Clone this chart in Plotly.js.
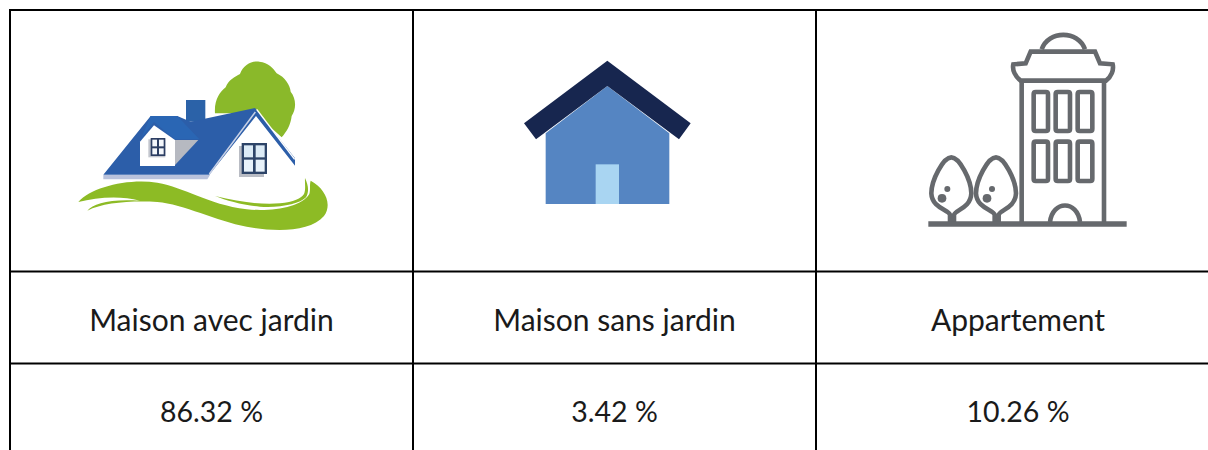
<!DOCTYPE html>
<html>
<head>
<meta charset="utf-8">
<script src="https://cdn.plot.ly/plotly-3.0.1.min.js"></script>
<style>html,body{margin:0;padding:0;background:#fff}#c{width:1208px;height:450px}</style>
</head>
<body>
<div id="c"></div>
<script>
const categories = ["Maison avec jardin", "Maison sans jardin", "Appartement"];
const shares = [86.32, 3.42, 10.26];

const columnEdges = [10, 413, 816, 1220];
const rowEdges = [10, 271.5, 363.5, 460];

const centre = i => (columnEdges[i] + columnEdges[i + 1]) / 2;
const xs = categories.map((_, i) => centre(i));

function place(d, ox, oy) {
  let n = 0;
  return d.replace(/-?\d+(\.\d+)?/g, m => {
    const v = parseFloat(m) / 3 + (n++ % 2 === 0 ? ox : oy);
    return v.toFixed(2);
  });
}
const fillShape = (d, color, o) => ({type: "path", xref: "x", yref: "y", path: place(d, o[0], o[1]),
  fillcolor: color, line: {width: 0}});
const strokeShape = (d, color, w, o) => ({type: "path", xref: "x", yref: "y", path: place(d, o[0], o[1]),
  fillcolor: "rgba(0,0,0,0)", line: {color: color, width: w}});
const rectPath = (a, b, c, d) => `M${a},${b} L${c},${b} L${c},${d} L${a},${d} Z`;
function roundRect(a, b, c, d) {
  const r = 6;
  return `M${a + r},${b} L${c - r},${b} Q${c},${b} ${c},${b + r} L${c},${d - r} Q${c},${d} ${c - r},${d} L${a + r},${d} Q${a},${d} ${a},${d - r} L${a},${b + r} Q${a},${b} ${a + r},${b} Z`;
}

const g = [60, 50];
const garden = [
  fillShape("M465,190 C462,150 480,125 497,112 C505,90 525,80 540,72 C550,45 575,32 598,35 C625,38 640,55 650,70 C675,82 690,105 692,125 C708,145 710,175 695,198 C692,225 680,245 665,262 L585,190 Z", "#8ab92a", g),
  fillShape(rectPath(378, 150, 436, 215), "#2b62a8", g),
  fillShape("M130,374 L272,198 L352,198 L392,215 L585,174 L705,325 L705,347 L588,198 L448,374 Z", "#2c5ea9", g),
  fillShape("M272,198 L352,198 L418,268 L345,268 L282,216 L245,262 Z", "#2a66b4", g),
  fillShape("M130,375 L450,375 L442,388 L130,388 Z", "#b9c2dc", g),
  fillShape("M240,275 L282,226 L345,270 L345,348 L240,348 Z", "#ffffff", g),
  fillShape("M345,270 L415,270 L345,345 Z", "#b6b9c1", g),
  fillShape(rectPath(265, 268, 316, 322), "#c3c6ce", g),
  fillShape(rectPath(272, 264, 316, 318), "#2c3e63", g),
  fillShape(rectPath(277, 269, 291, 289), "#f4f7fb", g),
  fillShape(rectPath(297, 269, 311, 289), "#f4f7fb", g),
  fillShape(rectPath(277, 295, 291, 313), "#f4f7fb", g),
  fillShape(rectPath(297, 295, 311, 313), "#f4f7fb", g),
  strokeShape("M586,186 L448,372", "#c8d1e6", 1.5, g),
  strokeShape("M590,178 L704,328", "#ffffff", 1.5, g),
  fillShape(rectPath(537, 288, 612, 381), "#b9bcc4", g),
  fillShape(rectPath(545, 279, 621, 372), "#2d4468", g),
  fillShape(rectPath(552, 286, 579, 322), "#dcebf6", g),
  fillShape(rectPath(587, 286, 614, 322), "#dcebf6", g),
  fillShape(rectPath(552, 329, 579, 365), "#e8f2fa", g),
  fillShape(rectPath(587, 329, 614, 365), "#e8f2fa", g),
  fillShape("M55,456 C95,412 200,385 292,398 C375,412 440,462 560,478 C640,486 725,470 748,432 C752,418 748,405 752,392 C795,415 818,462 792,498 C750,548 640,545 560,530 C470,514 370,462 292,456 C210,452 130,458 82,482 C100,460 150,446 240,452 C180,436 110,442 55,456 Z", "#8dbb25", g),
  fillShape("M465,438 C540,455 600,465 660,460 C700,456 725,445 732,432 C738,418 734,400 735,384 C745,405 748,425 738,442 C720,462 660,474 600,470 C550,466 500,452 465,438 Z", "#8dbb25", g)
];

const h = [500, 50];
const plainHouse = [
  fillShape("M137,250 L322,108 L508,250 L508,462 L137,462 Z", "#5585c2", h),
  fillShape(rectPath(287, 343, 357, 462), "#a9d5f2", h),
  fillShape("M72,220 L322,32 L572,220 L537,268 L322,108 L108,268 Z", "#17264f", h)
];

const t = [910, 20];
const grey = "#66696d";
const lw = 4.6;
const tree = dx => `M${dx + 120},608 L${dx + 120},585 C${dx + 118},570 ${dx + 66},565 ${dx + 64},520 C${dx + 64},480 ${dx + 100},412 ${dx + 124},412 C${dx + 148},412 ${dx + 184},480 ${dx + 184},520 C${dx + 182},565 ${dx + 134},570 ${dx + 132},585 L${dx + 132},608`;
const blob = (cx, cy, r) => `M${cx - r},${cy} Q${cx - r},${cy - r} ${cx},${cy - r} Q${cx + r},${cy - r} ${cx + r},${cy} Q${cx + r},${cy + r} ${cx},${cy + r} Q${cx - r},${cy + r} ${cx - r},${cy} Z`;
const tower = [
  strokeShape("M395,88 C415,30 505,30 525,88", grey, lw, t),
  strokeShape("M362,95 L555,95 L570,130 L608,133 C612,150 604,170 588,182 L332,182 C316,170 306,150 310,133 L347,130 Z", grey, lw, t),
  strokeShape("M335,185 L335,610", grey, lw, t),
  strokeShape("M582,185 L582,610", grey, lw, t),
  strokeShape(roundRect(371, 216, 414, 333), grey, lw, t),
  strokeShape(roundRect(437, 216, 480, 333), grey, lw, t),
  strokeShape(roundRect(503, 216, 547, 333), grey, lw, t),
  strokeShape(roundRect(371, 365, 414, 483), grey, lw, t),
  strokeShape(roundRect(437, 365, 480, 483), grey, lw, t),
  strokeShape(roundRect(503, 365, 547, 483), grey, lw, t),
  strokeShape("M420,606 C428,540 502,540 510,606", grey, lw, t),
  strokeShape(tree(0), grey, lw, t),
  strokeShape(tree(134), grey, lw, t),
  fillShape(blob(112, 507, 9), grey, t),
  fillShape(blob(96, 535, 13), grey, t),
  fillShape(blob(246, 507, 9), grey, t),
  fillShape(blob(231, 535, 13), grey, t),
  strokeShape("M55,612 L650,612", grey, 5.5, t)
];

const rule = (x0, y0, x1, y1) => ({type: "line", xref: "x", yref: "y", x0, y0, x1, y1,
  line: {color: "#000000", width: 2}});
const grid = [
  ...rowEdges.slice(0, 3).map(y => rule(columnEdges[0] - 1, y, columnEdges[3], y)),
  ...columnEdges.slice(0, 3).map(x => rule(x, rowEdges[0], x, rowEdges[3]))
];

const textStyle = {family: "Lato, Carlito, sans-serif", size: 30, color: "#1a1a1a"};
const numberStyle = {...textStyle, size: 28.5};
const traces = [
  {type: "scatter", mode: "text", x: xs, y: categories.map(() => (rowEdges[1] + rowEdges[2]) / 2 + 6),
   text: categories, textposition: "middle center", textfont: textStyle, hoverinfo: "skip", showlegend: false},
  {type: "scatter", mode: "text", x: xs, y: shares.map(() => (rowEdges[2] + 450) / 2 + 8),
   text: shares.map(v => v.toFixed(2) + " %"), textposition: "middle center", textfont: numberStyle, hoverinfo: "skip", showlegend: false}
];

const hidden = {visible: false, showgrid: false, zeroline: false, fixedrange: true};
Plotly.newPlot("c", traces, {
  width: 1208, height: 450,
  margin: {l: 0, r: 0, t: 0, b: 0},
  paper_bgcolor: "#ffffff", plot_bgcolor: "#ffffff",
  xaxis: {...hidden, range: [0, 1208]},
  yaxis: {...hidden, range: [450, 0]},
  shapes: [...garden, ...plainHouse, ...tower, ...grid],
  showlegend: false
}, {displayModeBar: false, staticPlot: true});
</script>
</body>
</html>
